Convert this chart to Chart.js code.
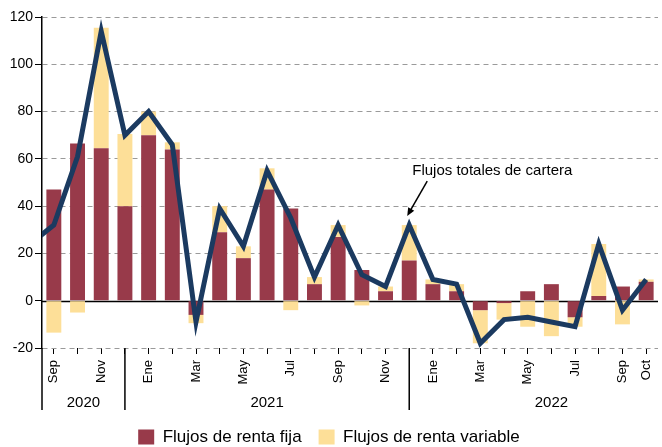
<!DOCTYPE html>
<html lang="es">
<head>
<meta charset="utf-8">
<script src="https://cdn.jsdelivr.net/npm/chart.js@4.4.1/dist/chart.umd.min.js"></script>
<style>
  html, body { margin: 0; padding: 0; background: #fff; }
  #wrap { width: 662px; height: 447px; }
</style>
</head>
<body>
<div id="wrap"><canvas id="flujos" width="662" height="447"></canvas></div>
<script>
// Meses desde Ago 2020 (solo se ve el tramo de linea) hasta Oct 2022
const months = ["Ago", "Sep", "Oct", "Nov", "Dic", "Ene", "Feb", "Mar", "Abr", "May", "Jun", "Jul",
  "Ago", "Sep", "Oct", "Nov", "Dic", "Ene", "Feb", "Mar", "Abr", "May", "Jun", "Jul", "Ago", "Sep", "Oct"];
const tickLabels = ["", "Sep", "", "Nov", "", "Ene", "", "Mar", "", "May", "", "Jul",
  "", "Sep", "", "Nov", "", "Ene", "", "Mar", "", "May", "", "Jul", "", "Sep", "Oct"];
const rentaFija = [null, 47, 66.5, 64.5, 40, 70, 64, -6, 29, 18, 47, 39,
  7, 27, 13, 4, 17, 7, 4, -4, -1, 4, 7, -7, 2, 6, 8];
const rentaVariable = [null, -13.5, -5, 51, 30.5, 10, 3, -3.5, 11, 5, 9, -4,
  3, 5, -2, 2, 15, 2, 3, -14, -7, -11, -15, -4, 22, -10, 1];
const flujosTotales = [24, 32, 61, 114, 70, 80, 66, -9, 39, 23, 55, 35,
  10, 32, 11, 6, 32, 9, 7, -18, -8, -7, -9, -11, 24, -4, 9];
const yTicks = [-20, 0, 20, 40, 60, 80, 100, 120];
const years = ["2020", "2021", "2022"];
const decIndex = [4, 16];

const axisDecor = {
  id: "axisDecor",
  beforeDatasetsDraw(chart) {
    const { ctx, chartArea, scales } = chart;
    const y0 = Math.round(scales.y.getPixelForValue(0)) + 0.5;
    ctx.save();
    ctx.strokeStyle = "#000";
    ctx.lineWidth = 1.5;
    ctx.beginPath();
    ctx.moveTo(chartArea.left, y0);
    ctx.lineTo(chartArea.right, y0);
    ctx.stroke();
    ctx.restore();
  },
  afterDraw(chart) {
    const { ctx, chartArea, scales } = chart;
    const x = scales.x;
    const y = scales.y;
    const bottom = chartArea.bottom;
    const sepBottom = bottom + 62;
    const decX = decIndex.map(i => x.getPixelForValue(i));

    ctx.save();
    // separadores de anio
    ctx.strokeStyle = "#000";
    ctx.lineWidth = 1.5;
    [chartArea.left].concat(decX).forEach(px => {
      ctx.beginPath();
      ctx.moveTo(px, bottom);
      ctx.lineTo(px, sepBottom);
      ctx.stroke();
    });

    ctx.fillStyle = "#000";
    ctx.font = "15px 'Liberation Sans', Arial, sans-serif";
    ctx.textAlign = "center";
    ctx.textBaseline = "middle";
    const centers = [
      (chartArea.left + decX[0]) / 2,
      (decX[0] + decX[1]) / 2,
      (decX[1] + x.getPixelForValue(decIndex[1] + 12)) / 2
    ];
    years.forEach((yr, i) => ctx.fillText(yr, centers[i], bottom + 55));

    // anotacion de la linea
    const ax = x.getPixelForValue(16);
    const ay = y.getPixelForValue(flujosTotales[16]);
    ctx.textAlign = "left";
    ctx.font = "15px 'Liberation Sans', Arial, sans-serif";
    ctx.fillText("Flujos totales de cartera", ax + 3, ay - 54);

    const x1 = ax + 18, y1 = ay - 44, x2 = ax - 2, y2 = ay - 9;
    const ang = Math.atan2(y2 - y1, x2 - x1);
    ctx.lineWidth = 1.5;
    ctx.beginPath();
    ctx.moveTo(x1, y1);
    ctx.lineTo(x2 - 5 * Math.cos(ang), y2 - 5 * Math.sin(ang));
    ctx.stroke();
    ctx.beginPath();
    ctx.moveTo(x2, y2);
    ctx.lineTo(x2 - 8 * Math.cos(ang) + 3.5 * Math.sin(ang), y2 - 8 * Math.sin(ang) - 3.5 * Math.cos(ang));
    ctx.lineTo(x2 - 8 * Math.cos(ang) - 3.5 * Math.sin(ang), y2 - 8 * Math.sin(ang) + 3.5 * Math.cos(ang));
    ctx.closePath();
    ctx.fill();
    ctx.restore();
  }
};

Chart.defaults.font.family = "'Liberation Sans', Arial, sans-serif";
Chart.defaults.color = "#000";

new Chart(document.getElementById("flujos"), {
  type: "bar",
  data: {
    labels: months,
    datasets: [
      {
        label: "Flujos de renta fija",
        data: rentaFija,
        backgroundColor: "#983a4a",
        barPercentage: 0.63,
        categoryPercentage: 1,
        order: 1
      },
      {
        label: "Flujos de renta variable",
        data: rentaVariable,
        backgroundColor: "#fddf98",
        barPercentage: 0.63,
        categoryPercentage: 1,
        order: 1
      },
      {
        type: "line",
        label: "Flujos totales de cartera",
        data: flujosTotales,
        stack: "total",
        borderColor: "#1b3a60",
        borderWidth: 5,
        pointRadius: 0,
        tension: 0,
        fill: false,
        clip: { left: 0, top: false, right: false, bottom: false },
        order: 0
      }
    ]
  },
  options: {
    responsive: false,
    animation: false,
    devicePixelRatio: 1,
    layout: { padding: { top: 17, right: 4, bottom: -8.5, left: 0 } },
    plugins: {
      tooltip: { enabled: false },
      legend: {
        position: "bottom",
        labels: {
          boxWidth: 16,
          boxHeight: 15,
          padding: 17,
          font: { size: 17 },
          filter: item => item.datasetIndex < 2
        }
      }
    },
    scales: {
      x: {
        stacked: true,
        min: 1,
        offset: true,
        grid: { display: true, drawOnChartArea: false, offset: false, tickLength: 6, tickColor: "#000", tickWidth: 1 },
        border: { display: false },
        ticks: {
          autoSkip: false,
          minRotation: 90,
          maxRotation: 90,
          padding: 6,
          font: { size: 13 },
          callback: value => tickLabels[value]
        },
        afterFit(scale) {
          scale.height = 63.5;
          scale.paddingRight = 0;
        }
      },
      y: {
        stacked: true,
        min: -20,
        max: 120,
        afterBuildTicks(scale) { scale.ticks = yTicks.map(v => ({ value: v })); },
        ticks: { padding: 2, font: { size: 14 } },
        grid: {
          color: c => (c.tick && c.tick.value === 0 ? "rgba(0,0,0,0)" : "#9a9a9a"),
          tickColor: "#000",
          tickLength: 7,
          tickBorderDash: [],
          lineWidth: 1
        },
        border: { display: true, color: "#000", width: 1.5, dash: [5, 4] },
        afterFit(scale) { scale.width = 42; }
      }
    }
  },
  plugins: [axisDecor]
});
</script>
</body>
</html>
